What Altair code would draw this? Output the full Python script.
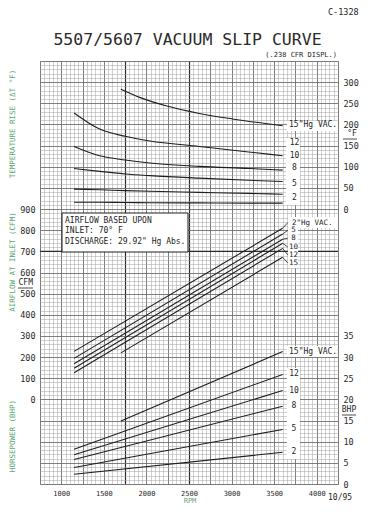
import altair as alt
import pandas as pd

FONT = "DejaVu Sans Mono"
INK = "#1e1e1e"
GREEN = "#5fa873"
FINE = "#a2a2a2"
MED = "#6a6a6a"
HEAVY = "#2a2a2a"

# ---------------- data ----------------
# Temperature rise (deg F) vs RPM, per vacuum level ("Hg)
temp_rpm_15 = [1700, 1920, 2230, 2620, 3010, 3600]
temp_val_15 = [283, 264, 244, 226, 213, 197]
temp_rpm = [1150, 1450, 1750, 2040, 2620, 3200, 3600]
temp_val_12 = [227, 189, 172, 161, 148, 135, 126]
temp_val_10 = [148, 126, 116, 109, 101, 96, 92]
temp_val_8 = [96, 89, 83, 79, 73, 68, 65]
temp_val_5 = [47, 45.5, 43.5, 42, 39.5, 37, 35]
temp_val_2 = [16, 16, 15.5, 15, 14.5, 14, 14]

# Airflow at inlet (CFM) vs RPM
flow_rpm = [1150, 3600]
flow_rpm_15 = [1700, 3600]
cfm_2 = [227, 809]
cfm_5 = [194, 782]
cfm_8 = [169, 757]
cfm_10 = [147, 738]
cfm_12 = [126, 714]
cfm_15 = [220, 672]

# Horsepower (BHP) vs RPM
bhp_2 = [2.3, 7.5]
bhp_5 = [3.9, 12.9]
bhp_8 = [5.8, 18.4]
bhp_10 = [6.9, 22.1]
bhp_12 = [8.2, 25.9]
bhp_15 = [14.9, 31.3]

# curve labels
vac_title = ['15"Hg VAC.', '2"Hg VAC.', '15"Hg VAC.']
temp_num_labels = ["12", "10", "8", "5", "2"]
temp_num_at = [156, 125, 97, 59, 27]
temp_vac_at = [198]
cfm_num_labels = ["5", "8", "10", "12", "15"]
cfm_num_at = [799, 762, 721, 683, 645]
cfm_vac_at = [836]
cfm_leader_end = [836, 799, 762, 721, 683, 645]
bhp_num_labels = ["12", "10", "8", "5", "2"]
bhp_num_at = [26.0, 22.0, 18.4, 13.0, 7.6]
bhp_vac_at = [31.3]

# heavier printed line of the graph paper
cfm_heavy = [700]

x_ticks = [1000, 1500, 2000, 2500, 3000, 3500, 4000]
temp_ticks = [0, 50, 100, 150, 200, 250, 300]
cfm_ticks = [0, 100, 200, 300, 400, 500, 600, 700, 800, 900]
bhp_ticks = [0, 5, 10, 15, 20, 25, 30, 35]


def long_df(items):
    rows = []
    for vac, rs, ys in items:
        for r, y in zip(rs, ys):
            rows.append({"vac": vac, "rpm": r, "val": y})
    return pd.DataFrame(rows)


temp_df = long_df([
    ("15", temp_rpm_15, temp_val_15), ("12", temp_rpm, temp_val_12),
    ("10", temp_rpm, temp_val_10), ("8", temp_rpm, temp_val_8),
    ("5", temp_rpm, temp_val_5), ("2", temp_rpm, temp_val_2)])
cfm_df = long_df([
    ("2", flow_rpm, cfm_2), ("5", flow_rpm, cfm_5), ("8", flow_rpm, cfm_8),
    ("10", flow_rpm, cfm_10), ("12", flow_rpm, cfm_12), ("15", flow_rpm_15, cfm_15)])
bhp_df = long_df([
    ("2", flow_rpm, bhp_2), ("5", flow_rpm, bhp_5), ("8", flow_rpm, bhp_8),
    ("10", flow_rpm, bhp_10), ("12", flow_rpm, bhp_12), ("15", flow_rpm_15, bhp_15)])

cfm_ends = [cfm_2[-1], cfm_5[-1], cfm_8[-1], cfm_10[-1], cfm_12[-1], cfm_15[-1]]
leader_df = pd.DataFrame(
    [{"vac": str(i), "rpm": r, "val": v}
     for i, (a, b) in enumerate(zip(cfm_ends, cfm_leader_end))
     for r, v in ((3600, a), (3660, b))])

one = pd.DataFrame({"k": [0]})

# ---------------- scales / axes ----------------
x_scale = alt.Scale(domain=[750, 4250], nice=False, zero=False)
temp_scale = alt.Scale(domain=[-650, 350], nice=False, zero=False)
cfm_scale = alt.Scale(domain=[-400, 1600], nice=False, zero=False)
bhp_scale = alt.Scale(domain=[0, 100], nice=False, zero=False)

common = dict(ticks=False, domain=False, title=None, labelFont=FONT,
              labelColor="#2a2a2a", labelOverlap=False, labelFlush=False)


def only(vals):
    return "indexof([" + ",".join(str(v) for v in vals) + "], datum.value) >= 0 ? datum.value : ''"


x_fine = alt.X("rpm:Q", scale=x_scale, axis=alt.Axis(
    orient="bottom", values=list(range(750, 4251, 50)), grid=True,
    gridColor=FINE, gridWidth=0.5, labelExpr=only(x_ticks), labelFontSize=7,
    labelPadding=5, **common))
x_med = alt.X("rpm:Q", scale=x_scale, axis=alt.Axis(
    orient="bottom", values=list(range(750, 4251, 250)), grid=True,
    gridColor=MED, gridWidth=0.8, labels=False, **common))
x_heavy = alt.X("rpm:Q", scale=x_scale, axis=alt.Axis(
    orient="bottom", values=[1750, 2500], grid=True,
    gridColor=HEAVY, gridWidth=1.2, labels=False, **common))

y_temp = alt.Y("val:Q", scale=temp_scale, axis=alt.Axis(
    orient="right", values=list(range(-650, 351, 10)), grid=True,
    gridColor=FINE, gridWidth=0.5, labelExpr=only(temp_ticks),
    labelFontSize=8.5, labelPadding=5, **common))
y_cfm = alt.Y("val:Q", scale=cfm_scale, axis=alt.Axis(
    orient="left", values=list(range(-400, 1601, 100)), grid=True,
    gridColor=MED, gridWidth=0.8, labelExpr=only(cfm_ticks),
    labelFontSize=8.5, labelPadding=5, **common))
y_cfm_plain = alt.Y("val:Q", scale=cfm_scale, axis=None)
y_bhp = alt.Y("val:Q", scale=bhp_scale, axis=alt.Axis(
    orient="right", values=bhp_ticks, grid=False, labelFontSize=8.5,
    labelPadding=5, **common))


def curves(df, x, y):
    return alt.Chart(df).mark_line(color=INK, strokeWidth=1.1, interpolate="monotone").encode(
        x=x, y=y, detail="vac:N")


def labels(texts, at, y, xpx, align="center", size=8):
    df = pd.DataFrame({"t": texts, "val": at})
    return alt.Chart(df).mark_text(font=FONT, fontSize=size, color=INK, align=align,
                                   baseline="middle").encode(
        x=alt.value(xpx), y=y, text="t:N")


def note(txt, x, y, size=8, color=INK, align="left", angle=0):
    return alt.Chart(one).mark_text(text=txt, font=FONT, fontSize=size, color=color,
                                    align=align, baseline="middle", angle=angle).encode(
        x=alt.value(x), y=alt.value(y))


def box(x1, x2, y1, y2, stroke=None):
    kw = dict(fill="white")
    if stroke:
        kw.update(stroke=stroke, strokeWidth=1)
    return alt.Chart(one).mark_rect(**kw).encode(
        x=alt.value(x1), x2=alt.value(x2), y=alt.value(y1), y2=alt.value(y2))


def uline(x1, x2, y):
    return alt.Chart(one).mark_rule(color=INK, strokeWidth=0.8).encode(
        x=alt.value(x1), x2=alt.value(x2), y=alt.value(y))


heavy_rule = alt.Chart(pd.DataFrame({"val": cfm_heavy})).mark_rule(
    color=HEAVY, strokeWidth=1.2).encode(y=y_cfm_plain)

boxes = alt.layer(
    box(247, 298, 60, 70), box(246, 260, 77, 144),
    box(248, 298, 156, 167), box(248, 258, 165, 207),
    box(247, 297, 285, 296), box(247, 260, 307, 398),
    box(22, 148, 152, 191, stroke=INK),
)

temp_layer = alt.layer(
    curves(temp_df, x_fine, y_temp),
    labels(temp_num_labels, temp_num_at, y_temp, 254.5),
    labels([vac_title[0]], temp_vac_at, y_temp, 249, align="left"),
)
cfm_layer = alt.layer(
    curves(cfm_df, x_med, y_cfm),
    alt.Chart(leader_df).mark_line(color=INK, strokeWidth=0.8).encode(
        x=x_med, y=y_cfm, detail="vac:N"),
    labels(cfm_num_labels, cfm_num_at, y_cfm, 253.5, size=7.5),
    labels([vac_title[1]], cfm_vac_at, y_cfm, 252, align="left", size=7.5),
)
bhp_layer = alt.layer(
    curves(bhp_df, x_heavy, y_bhp),
    labels(bhp_num_labels, bhp_num_at, y_bhp, 254),
    labels([vac_title[2]], bhp_vac_at, y_bhp, 249, align="left"),
)

notes = alt.layer(
    note("5507/5607 VACUUM SLIP CURVE", 147.5, -21, size=16.5, color="#2a2a2a", align="center"),
    note("(.238 CFR DISPL.)", 297, -6, size=7, align="right"),
    note("C-1328", 288, -49, size=8.5),
    note("10/95", 288, 437, size=8),
    note("RPM", 150, 440, size=7, color=GREEN, align="center"),
    note("TEMPERATURE RISE (\u0394T \u00b0F)", -27, 63, size=7.5, color=GREEN, align="center", angle=270),
    note("AIRFLOW AT INLET (CFM)", -27, 201, size=7.5, color=GREEN, align="center", angle=270),
    note("HORSEPOWER (BHP)", -27, 375, size=7.5, color=GREEN, align="center", angle=270),
    note("AIRFLOW BASED UPON", 25, 160, size=8),
    note("INLET: 70\u00b0 F", 25, 170, size=8),
    note("DISCHARGE: 29.92\" Hg Abs.", 25, 181, size=8),
    note("CFM", -7, 222, size=8, align="right"),
    uline(-22, -7, 227),
    note("\u00b0F", 312, 73, size=8, align="center"),
    uline(303, 317, 78),
    note("BHP", 309, 349, size=8, align="center"),
    uline(302, 316, 354),
)

chart = alt.layer(heavy_rule, boxes, temp_layer, cfm_layer, bhp_layer, notes).resolve_scale(
    y="independent").resolve_axis(x="independent").properties(
    width=298, height=423,
    autosize=alt.AutoSizeParams(type="none"),
    padding={"left": 32, "top": 53, "right": 26, "bottom": 20},
).configure_view(stroke="#111", strokeWidth=1.2).configure(background="white")

chart.save("out.html", embed_options={"renderer": "svg", "actions": False})
